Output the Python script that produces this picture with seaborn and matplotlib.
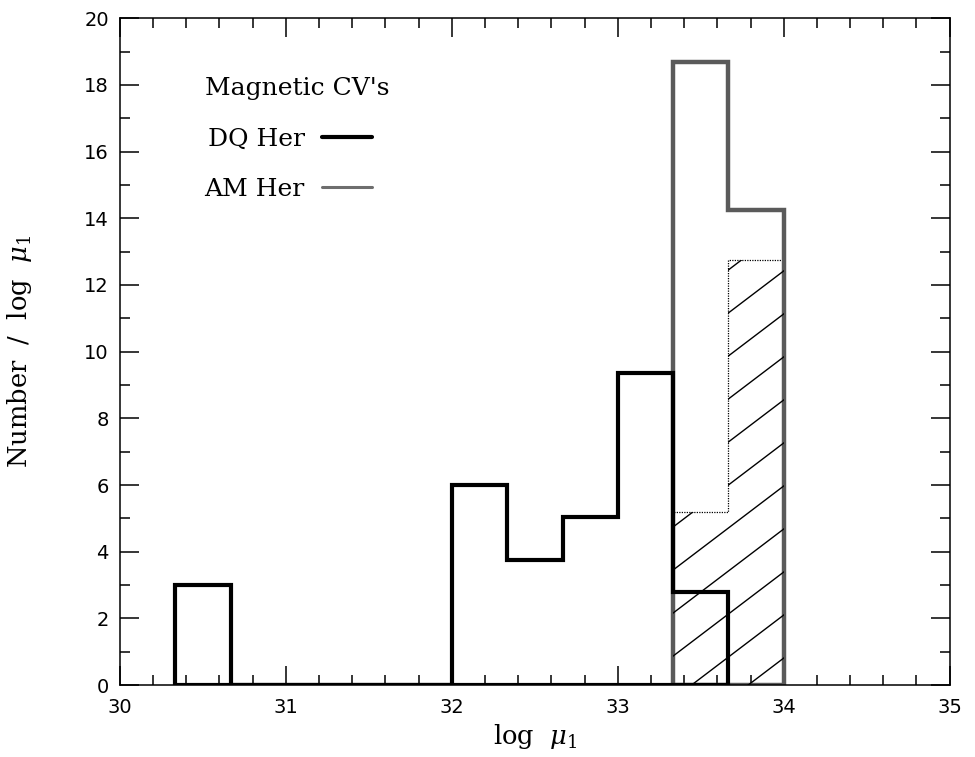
import numpy as np
import pandas as pd
import matplotlib
matplotlib.use("Agg")
import matplotlib.pyplot as plt
import seaborn as sns
from matplotlib.ticker import MultipleLocator
from matplotlib.lines import Line2D

# ---- data ----
dq_edges = [30.333, 30.667, 31.0, 31.333, 31.667, 32.0, 32.333, 32.667, 33.0, 33.333, 33.667]
dq_heights = [3.0, 0.0, 0.0, 0.0, 0.0, 6.0, 3.75, 5.05, 9.35, 2.8]

am_edges = [33.333, 33.667, 34.0]
am_heights = [18.7, 14.25]

am_sub_edges = [33.333, 33.667, 34.0]
am_sub_heights = [5.2, 12.75]

legend_title = "Magnetic CV's"
dq_label = "DQ Her"
am_label = "AM Her"

sns.set_theme(style="white")
plt.rcParams["font.family"] = ["DejaVu Serif"]
plt.rcParams["mathtext.fontset"] = "dejavuserif"

fig = plt.figure(figsize=(9.75, 7.57), dpi=100)
ax = fig.add_axes([0.123, 0.095, 0.851, 0.881])


def centers(edges):
    e = np.asarray(edges)
    return (e[:-1] + e[1:]) / 2


# hatched sub-sample (AM Her subset)
df_sub = pd.DataFrame({"x": centers(am_sub_edges), "w": am_sub_heights})
sns.histplot(data=df_sub, x="x", weights="w", bins=am_sub_edges, element="step",
             fill=True, color="black", facecolor="none", edgecolor="black", linewidth=0.9,
             linestyle=(0, (1, 1)), ax=ax)
poly = ax.collections[-1]
clip_path = poly.get_paths()[0]

# hatch lines clipped to the subset region
hx = np.array([33.0, 34.5])
for k in range(-2, 14):
    ln, = ax.plot(hx, 0.81 + k * 1.29 + 3.78 * (hx - 34.0), color="black", lw=1.0)
    ln.set_clip_path(clip_path, ax.transData)

# AM Her (gray thick outline)
df_am = pd.DataFrame({"x": centers(am_edges), "w": am_heights})
sns.histplot(data=df_am, x="x", weights="w", bins=am_edges, element="step",
             fill=True, color="#5a5a5a", facecolor="none", edgecolor="#5a5a5a",
             linewidth=3.2, joinstyle="miter", ax=ax)

# DQ Her (black thick outline)
df_dq = pd.DataFrame({"x": centers(dq_edges), "w": dq_heights})
sns.histplot(data=df_dq, x="x", weights="w", bins=dq_edges, element="step",
             fill=True, color="black", facecolor="none", edgecolor="black",
             linewidth=3.0, joinstyle="miter", ax=ax)

ax.set_xlim(30, 35)
ax.set_ylim(0, 20)
ax.xaxis.set_major_locator(MultipleLocator(1))
ax.xaxis.set_minor_locator(MultipleLocator(0.2))
ax.yaxis.set_major_locator(MultipleLocator(2))
ax.yaxis.set_minor_locator(MultipleLocator(1))
ax.tick_params(which="both", direction="in", top=True, right=True, bottom=True, left=True,
               color="black", width=1.1)
ax.tick_params(which="major", length=14)
ax.tick_params(which="minor", length=7)
for lab in ax.get_xticklabels() + ax.get_yticklabels():
    lab.set_family("DejaVu Sans")
    lab.set_fontsize(14)
    lab.set_color("black")
ax.tick_params(axis="x", pad=9)
ax.tick_params(axis="y", pad=8)
for s in ax.spines.values():
    s.set_color("black")
    s.set_linewidth(1.1)

ax.set_xlabel(r"log  $\mu_1$", fontsize=18.5, labelpad=4, color="black")
ax.set_ylabel(r"Number  /  log  $\mu_1$", fontsize=18.5, labelpad=36, color="black")

# legend
h_dq = Line2D([], [], color="black", lw=3.0)
h_am = Line2D([], [], color="#6e6e6e", lw=2.2)
leg = ax.legend([h_dq, h_am], [dq_label, am_label], title=legend_title,
                markerfirst=False, frameon=False, loc="upper left",
                bbox_to_anchor=(0.102, 0.912), fontsize=18, title_fontsize=18,
                handlelength=2.0, labelspacing=1.1, alignment="left",
                handletextpad=0.7, borderpad=0, borderaxespad=0)
for t in leg.get_texts() + [leg.get_title()]:
    t.set_color("black")

fig.savefig("out.png", dpi=100)
